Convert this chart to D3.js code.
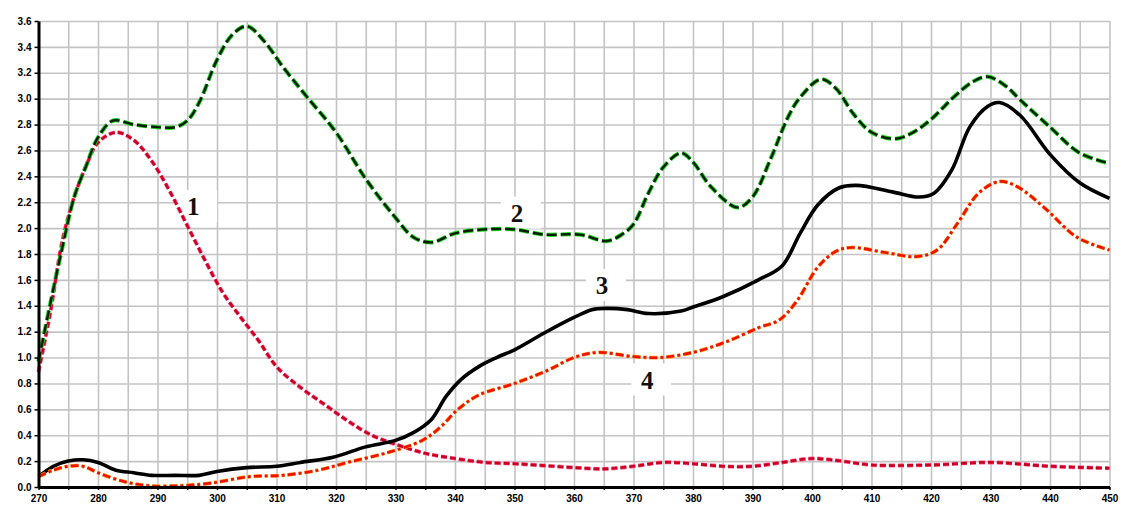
<!DOCTYPE html>
<html lang="en">
<head>
    <meta charset="utf-8">
    <title>Absorption spectra</title>
    <style>
        body { margin: 0; background: #fff; }
        .tick text { font-family: "Liberation Sans", Arial, sans-serif; font-weight: bold; font-size: 10px; fill: #000; }
        .grid line { stroke: #c4c4c4; stroke-width: 1.6px; }
        .grid path { display: none; }
        .axis path { stroke: #000; stroke-width: 3px; }
        .axis line { stroke: #000; stroke-width: 1.5px; }
        .lbl { font-family: "Liberation Serif", "Times New Roman", serif; font-weight: bold; font-size: 25px; fill: #111; }
    </style>
</head>
<body>
<script src="https://cdn.jsdelivr.net/npm/d3@7"></script>
<script>
    // curve 1 - red dotted
    const wl1 = [270, 272, 274, 276, 278, 280, 283, 286, 289, 292, 295, 298, 301, 304, 307, 310, 314, 318, 322, 326, 330, 335, 340, 345, 350, 355, 360, 365, 370, 375, 380, 385, 390, 395, 400, 405, 410, 420, 430, 440, 450];
    const ab1 = [0.89, 1.35, 1.9, 2.24, 2.48, 2.66, 2.74, 2.68, 2.52, 2.29, 2.02, 1.75, 1.5, 1.31, 1.13, 0.93, 0.77, 0.64, 0.51, 0.4, 0.33, 0.26, 0.22, 0.19, 0.18, 0.165, 0.15, 0.14, 0.16, 0.19, 0.18, 0.16, 0.16, 0.19, 0.22, 0.2, 0.17, 0.17, 0.19, 0.16, 0.145];

    // curve 2 - green dashed
    const wl2 = [270, 272, 274, 276, 278, 280, 282.5, 286, 290, 293, 295, 297, 300, 302.5, 305, 308, 311, 315, 320, 325, 330, 333, 336, 340, 345, 350, 355, 361, 365.5, 368, 370, 372.5, 375, 378, 380, 383, 387.5, 390, 393, 396, 398, 401.5, 404, 407, 410, 414, 417, 420, 424, 427, 429.5, 432.5, 435, 440, 445, 450];
    const ab2 = [0.97, 1.42, 1.85, 2.24, 2.48, 2.7, 2.83, 2.8, 2.78, 2.78, 2.83, 2.97, 3.3, 3.49, 3.56, 3.44, 3.25, 3.02, 2.74, 2.38, 2.08, 1.93, 1.89, 1.96, 1.99, 1.99, 1.95, 1.95, 1.9, 1.95, 2.03, 2.27, 2.47, 2.58, 2.51, 2.32, 2.16, 2.24, 2.53, 2.86, 3.01, 3.15, 3.08, 2.88, 2.74, 2.69, 2.74, 2.84, 3.02, 3.13, 3.17, 3.1, 2.99, 2.78, 2.58, 2.5];

    // curve 3 - black solid
    const wl3 = [270, 272.5, 275, 277.5, 280, 283, 286, 289, 293, 297, 300, 305, 310, 314, 319.5, 325, 330, 333, 336, 338.5, 341, 344, 347, 350, 355, 360, 363, 365.5, 369, 372.5, 378, 380, 385, 391, 395, 398, 401, 404.5, 407.5, 413.5, 418, 420.5, 423.5, 426.5, 429.5, 431.5, 435, 440, 445, 450];
    const ab3 = [0.08, 0.16, 0.2, 0.21, 0.19, 0.13, 0.11, 0.09, 0.09, 0.09, 0.12, 0.15, 0.16, 0.19, 0.23, 0.31, 0.36, 0.42, 0.52, 0.7, 0.83, 0.93, 1.0, 1.06, 1.19, 1.31, 1.37, 1.38, 1.37, 1.34, 1.36, 1.39, 1.47, 1.6, 1.71, 1.96, 2.18, 2.31, 2.33, 2.28, 2.24, 2.27, 2.45, 2.78, 2.94, 2.97, 2.87, 2.57, 2.35, 2.23];

    // curve 4 - red dash-dot
    const wl4 = [270, 272.5, 275, 277.5, 280, 284.5, 288.5, 294, 299, 305.5, 311, 317, 322, 329, 334.5, 337.5, 340.5, 344, 350, 355.5, 360, 364, 369.5, 374.5, 380, 385.5, 391, 394.5, 397.5, 401, 404, 406.5, 412.5, 417.5, 421, 424.5, 428, 431.5, 434.5, 439, 444.5, 450];
    const ab4 = [0.08, 0.13, 0.16, 0.16, 0.11, 0.04, 0.01, 0.01, 0.03, 0.08, 0.09, 0.13, 0.19, 0.27, 0.36, 0.46, 0.6, 0.71, 0.8, 0.9, 1.0, 1.04, 1.01, 1.0, 1.04, 1.12, 1.23, 1.29, 1.44, 1.7, 1.82, 1.85, 1.81, 1.78, 1.83, 2.04, 2.27, 2.36, 2.32, 2.16, 1.93, 1.83];

    const xTicks = d3.range(270, 451, 5);
    const yTicks = d3.range(0, 19).map(i => i * 0.2);
    const curveNames = ['1', '2', '3', '4'];
    // where each number label sits (wavelength, absorbance)
    const labelPos = [[296, 2.17], [350.4, 2.12], [364.7, 1.56], [372.3, 0.83]];

    const width = 1122, height = 512;
    const mLeft = 38.5, mRight = 1109.5, mTop = 21, mBottom = 487;

    const x = d3.scaleLinear().domain([270, 450]).range([mLeft, mRight]);
    const y = d3.scaleLinear().domain([0, 3.6]).range([mBottom, mTop]);

    const svg = d3.select('body').append('svg')
        .attr('width', width)
        .attr('height', height);

    // grid
    svg.append('g')
        .attr('class', 'grid')
        .attr('transform', `translate(0,${mBottom})`)
        .call(d3.axisBottom(x).tickValues(xTicks).tickSize(-(mBottom - mTop)).tickFormat(''));
    svg.append('g')
        .attr('class', 'grid')
        .attr('transform', `translate(${mLeft},0)`)
        .call(d3.axisLeft(y).tickValues(yTicks).tickSize(-(mRight - mLeft)).tickFormat(''));

    // white boxes behind the curve numbers
    labelPos.forEach(p => {
        svg.append('rect')
            .attr('x', x(p[0]) - 16)
            .attr('y', y(p[1]) - 16)
            .attr('width', 40)
            .attr('height', 32)
            .attr('fill', '#fff');
    });

    // curves
    const line = d3.line()
        .x(d => x(d[0]))
        .y(d => y(d[1]))
        .curve(d3.curveCatmullRom.alpha(0.5));
    const pts = (w, a) => w.map((v, i) => [v, a[i]]);

    const drawCurve = (data, stroke, w, dash) => {
        svg.append('path')
            .datum(data)
            .attr('fill', 'none')
            .attr('stroke', stroke)
            .attr('stroke-width', w)
            .attr('stroke-dasharray', dash)
            .attr('stroke-linejoin', 'round')
            .attr('d', line);
    };

    const d1 = pts(wl1, ab1), d2 = pts(wl2, ab2), d3_ = pts(wl3, ab3), d4 = pts(wl4, ab4);
    drawCurve(d1, '#ff5c93', 4, '6,3');
    drawCurve(d1, '#c8001e', 2.6, '6,3');
    drawCurve(d2, '#19d419', 4.2, '10,4');
    drawCurve(d2, '#0b1a0b', 2.4, '10,4');
    drawCurve(d3_, '#000', 3.6, null);
    drawCurve(d4, '#ffa020', 3.8, '8,3,3,3');
    drawCurve(d4, '#f01000', 2.6, '8,3,3,3');

    // number labels
    labelPos.forEach((p, i) => {
        svg.append('text')
            .attr('class', 'lbl')
            .attr('x', x(p[0]))
            .attr('y', y(p[1]) + 9)
            .attr('text-anchor', 'middle')
            .text(curveNames[i]);
    });

    // axes
    svg.append('g')
        .attr('class', 'axis')
        .attr('transform', `translate(0,${mBottom})`)
        .call(d3.axisBottom(x).tickValues(xTicks).tickSize(3).tickSizeOuter(0)
            .tickFormat(d => d % 10 === 0 ? d : ''))
        .call(g => g.selectAll('text').attr('dy', '0.85em'));
    svg.append('g')
        .attr('class', 'axis')
        .attr('transform', `translate(${mLeft},0)`)
        .call(d3.axisLeft(y).tickValues(yTicks).tickSize(4).tickSizeOuter(0)
            .tickFormat(d3.format('.1f')));
</script>
</body>
</html>
